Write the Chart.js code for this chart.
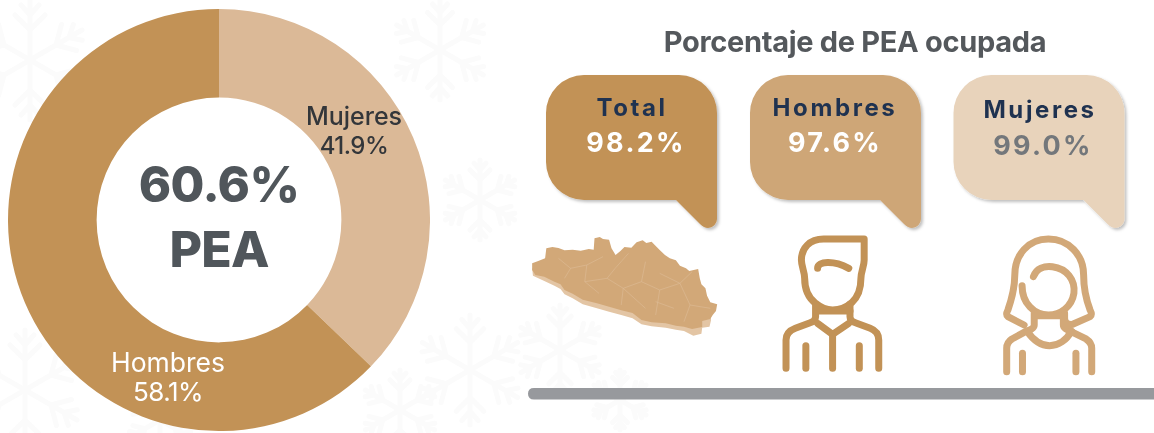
<!DOCTYPE html>
<html lang="es"><head><meta charset="utf-8">
<script src="https://cdn.jsdelivr.net/npm/chart.js@4"></script>
<style>
html,body{margin:0;padding:0;background:#fff;width:1154px;height:433px;overflow:hidden}
body{position:relative;font-family:Inter,"Open Sans",sans-serif}
#wrap{position:absolute;left:8px;top:9px;width:422px;height:422px}
.t{position:absolute;transform:translate(-50%,-50%);white-space:nowrap;line-height:1}
svg{position:absolute;left:0;top:0}
</style></head><body>
<svg id="bg" width="1154" height="433"></svg>
<div id="wrap"><canvas id="c" width="422" height="422"></canvas></div>
<svg id="fg" width="1154" height="433"></svg>
<div id="texts"></div>
<script>
// Slice shares as drawn in the picture (the source's arc is not to scale with its printed labels)
const sliceNames = ['Mujeres', 'Hombres'];
const sliceShares = [37.2, 62.8];
const sliceColors = ['#DBB997', '#C29256'];
const printedShares = ['41.9%', '58.1%'];
const centerValue = '60.6%';
const centerLabel = 'PEA';
const title = 'Porcentaje de PEA ocupada';
const calloutNames = ['Total', 'Hombres', 'Mujeres'];
const calloutValues = ['98.2%', '97.6%', '99.0%'];

new Chart(document.getElementById('c'), {
  type: 'doughnut',
  data: { labels: sliceNames, datasets: [{ data: sliceShares, backgroundColor: sliceColors, borderWidth: 0 }] },
  options: { responsive: false, animation: false, cutout: '58%', layout: { padding: 0 },
    plugins: { legend: { display: false }, tooltip: { enabled: false } } }
});

const NS = 'http://www.w3.org/2000/svg';
function el(parent, name, attrs) {
  const e = document.createElementNS(NS, name);
  for (const k in attrs) e.setAttribute(k, attrs[k]);
  parent.appendChild(e); return e;
}
// Faint background ornaments
const bg = document.getElementById('bg');
function flake(cx, cy, r) {
  const g = el(bg, 'g', { stroke: '#FBFBFB', 'stroke-width': 5, fill: 'none', 'stroke-linecap': 'round' });
  for (let a = 0; a < 6; a++) {
    const s = el(g, 'g', { transform: `translate(${cx} ${cy}) rotate(${a * 60})` });
    el(s, 'path', { d: `M0 0V${-r} M0 ${-r * .5}L${r * .25} ${-r * .75} M0 ${-r * .5}L${-r * .25} ${-r * .75} M0 ${-r * .75}L${r * .15} ${-r * .92} M0 ${-r * .75}L${-r * .15} ${-r * .92}` });
  }
}
[[30,60,60],[25,390,60],[440,50,50],[470,370,55],[480,200,40],[560,350,45],[160,420,35],[400,410,40],[620,400,30]].forEach(f => flake(...f));

const fg = document.getElementById('fg');
const defs = el(fg, 'defs', {});
const flt = el(defs, 'filter', { id: 'sh', x: '-10%', y: '-10%', width: '125%', height: '125%' });
el(flt, 'feDropShadow', { dx: 2, dy: 2, stdDeviation: 1.6, 'flood-color': '#000', 'flood-opacity': .25 });
function bubble(x, color) {
  const w = 171, y = 75, b = 200, tip = 228, r = 38;
  const d = `M${x + r} ${y} H${x + w - r} A${r} ${r} 0 0 1 ${x + w} ${y + r} V${tip - 9} A9 9 0 0 1 ${x + w - 9} ${tip}
    Q${x + w - 13} ${tip} ${x + w - 17} ${tip - 4} L${x + w - 41} ${b} H${x + r} A${r} ${r} 0 0 1 ${x} ${b - r} V${y + r} A${r} ${r} 0 0 1 ${x + r} ${y} Z`;
  el(fg, 'path', { d, fill: color, filter: 'url(#sh)' });
}
bubble(546, '#C29256'); bubble(750, '#CEA677'); bubble(953.5, '#E8D3BB');

// Icons authored in crop-space, scaled to page pixels
const icons = el(fg, 'g', { transform: 'translate(520 225) scale(0.4049 0.3333)' });
const mapPts = '30,115 45,108 62,100 65,70 80,66 95,69 110,76 130,74 150,77 170,72 182,74 184,40 197,36 205,42 220,44 226,70 236,90 248,78 258,66 275,68 288,52 303,46 312,54 325,50 345,75 358,90 370,100 385,106 395,122 410,130 418,138 440,132 444,160 448,178 458,190 462,212 470,232 487,238 484,258 476,270 470,282 450,288 450,306 425,312 405,305 385,302 360,295 325,292 300,285 278,264 250,256 220,245 190,235 155,224 130,206 110,195 100,178 85,170 60,155 38,150 30,135';
el(icons, 'polygon', { points: '30,130 32,152 60,168 85,182 100,192 110,208 130,220 155,238 190,250 220,260 250,270 278,280 300,298 325,304 360,308 385,314 405,318 428,332 448,326 450,308 468,305 472,285 470,270 300,200 60,130', fill: '#E3C5A4' });
el(icons, 'polygon', { points: mapPts, fill: '#D2A878' });
el(icons, 'path', { d: 'M95 100L125 130L110 160 M125 130L165 120L205 95 M165 120L160 170L195 205 M160 170L215 160L235 130L268 85 M215 160L255 190L250 240 M255 190L300 170L310 110 M300 170L345 195L335 270 M345 195L395 175L425 140 M345 145L395 175L420 240L405 290 M420 240L470 250 M255 190L310 250 M335 230L380 250',
  fill: 'none', stroke: '#DDBC97', 'stroke-width': .6, 'vector-effect': 'non-scaling-stroke' });
function line(color, ds) {
  const g = el(icons, 'g', { fill: 'none', stroke: color, 'stroke-width': 7, 'stroke-linecap': 'round', 'stroke-linejoin': 'round' });
  ds.forEach(d => el(g, 'path', { d, 'vector-effect': 'non-scaling-stroke' }));
}
line('#C29256', [
  'M850 42H750C715 42 695 70 695 105C695 125 703 140 703 160C703 190 708 215 730 235C745 250 760 255 772 255C790 255 805 248 820 232C838 212 842 185 842 160C842 140 850 125 850 105Z',
  'M735 130C735 108 775 105 812 130',
  'M730 238V275C730 285 725 290 715 294L680 310C665 317 657 330 657 345V430',
  'M815 238V275C815 285 820 290 830 294L865 310C880 317 886 330 886 345V430',
  'M732 258H815',
  'M735 295L772 328L812 295',
  'M772 328V430','M706 362V430','M838 362V430'
]);
line('#D2A878', [
  'M1268 155C1275 130 1295 122 1315 125C1350 130 1372 165 1368 205C1363 245 1335 270 1305 270C1270 270 1240 235 1240 182',
  'M1245 300L1205 275C1200 270 1202 262 1205 255C1215 220 1222 180 1222 150C1222 90 1255 42 1305 42C1355 42 1392 90 1392 150C1392 180 1397 220 1408 255C1411 262 1413 270 1408 275L1365 298C1355 300 1345 295 1345 280V265',
  'M1270 265V300C1270 310 1260 315 1245 322L1215 342C1205 350 1202 358 1202 370V440',
  'M1342 280V300C1342 310 1352 315 1365 322L1398 342C1408 350 1412 358 1412 370V440',
  'M1252 318C1270 350 1290 362 1308 362C1330 362 1350 345 1362 318',
  'M1272 272H1342','M1241 385V440','M1373 385V440'
]);
el(fg, 'path', { d: 'M534 388H1154V399.5H534Q528 399.5 528 393.7Q528 388 534 388Z', fill: '#97999D' });

// Text
const tx = document.getElementById('texts');
function text(s, x, y, size, weight, color, ls) {
  const d = document.createElement('div');
  d.className = 't'; d.textContent = s;
  d.style.cssText = `left:${x}px;top:${y}px;font-size:${size}px;font-weight:${weight};color:${color};letter-spacing:${ls || 0}px`;
  tx.appendChild(d);
}
text(centerValue, 219, 184, 49, 800, '#50565B', -0.6);
text(centerLabel, 219, 249, 50, 800, '#50565B', -0.8);
text(sliceNames[0], 354, 116, 25, 500, '#33363A');
text(printedShares[0], 354, 146, 24, 500, '#33363A', -0.5);
text(sliceNames[1], 168, 362, 26.5, 400, '#FFFFFF');
text(printedShares[1], 168, 392, 26, 400, '#FFFFFF', -0.5);
text(title, 855, 41, 29, 700, '#54585C', -0.3);
const cx = [632, 835, 1040], ny = [108, 108, 110], vx = [636, 835, 1043], vy = [142, 142, 145];
const vc = ['#FFFFFF', '#FFFFFF', '#73777B'];
calloutNames.forEach((n, i) => {
  text(n, cx[i], ny[i], 24, 700, '#1F3250', 2.6);
  text(calloutValues[i], vx[i], vy[i], 27, 700, vc[i], 2.3);
});
</script>
</body></html>
